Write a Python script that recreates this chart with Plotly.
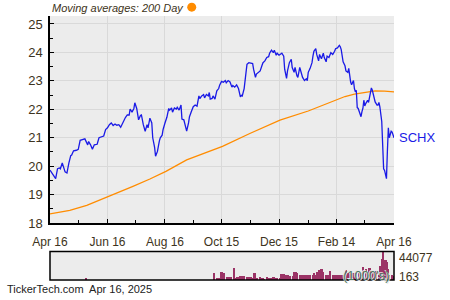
import plotly.graph_objects as go
import pandas as pd

# ---------------- data ----------------
price_dates = [
    "2024-04-16", "2024-04-19", "2024-04-22", "2024-04-24", "2024-04-26", "2024-04-27", "2024-04-29",
    "2024-05-02", "2024-05-04", "2024-05-06", "2024-05-08", "2024-05-09", "2024-05-11", "2024-05-14",
    "2024-05-16", "2024-05-18", "2024-05-21", "2024-05-23", "2024-05-26", "2024-05-27", "2024-05-29",
    "2024-05-31", "2024-06-02", "2024-06-05", "2024-06-07", "2024-06-09", "2024-06-12", "2024-06-14",
    "2024-06-16", "2024-06-18", "2024-06-20", "2024-06-22", "2024-06-24", "2024-06-26", "2024-06-28",
    "2024-06-30", "2024-07-02", "2024-07-05", "2024-07-07", "2024-07-09", "2024-07-10", "2024-07-12",
    "2024-07-14", "2024-07-15", "2024-07-17", "2024-07-19", "2024-07-21", "2024-07-22", "2024-07-24",
    "2024-07-26", "2024-07-28", "2024-07-29", "2024-07-31", "2024-08-02", "2024-08-03", "2024-08-05",
    "2024-08-06", "2024-08-08", "2024-08-10", "2024-08-11", "2024-08-13", "2024-08-14", "2024-08-16",
    "2024-08-18", "2024-08-20", "2024-08-21", "2024-08-23", "2024-08-24", "2024-08-26", "2024-08-28",
    "2024-08-29", "2024-08-31", "2024-09-02", "2024-09-03", "2024-09-05", "2024-09-07", "2024-09-08",
    "2024-09-10", "2024-09-11", "2024-09-13", "2024-09-15", "2024-09-17", "2024-09-19", "2024-09-21",
    "2024-09-22", "2024-09-24", "2024-09-26", "2024-09-27", "2024-09-29", "2024-10-01", "2024-10-02",
    "2024-10-03", "2024-10-05", "2024-10-06", "2024-10-08", "2024-10-10", "2024-10-12", "2024-10-13",
    "2024-10-15", "2024-10-17", "2024-10-19", "2024-10-20", "2024-10-22", "2024-10-24", "2024-10-26",
    "2024-10-27", "2024-10-29", "2024-10-31", "2024-11-02", "2024-11-04", "2024-11-05", "2024-11-06",
    "2024-11-08", "2024-11-10", "2024-11-11", "2024-11-13", "2024-11-15", "2024-11-17", "2024-11-18",
    "2024-11-20", "2024-11-21", "2024-11-23", "2024-11-25", "2024-11-27", "2024-11-28", "2024-11-30",
    "2024-12-02", "2024-12-04", "2024-12-05", "2024-12-07", "2024-12-09", "2024-12-10", "2024-12-12",
    "2024-12-13", "2024-12-15", "2024-12-18", "2024-12-20", "2024-12-21", "2024-12-23", "2024-12-24",
    "2024-12-26", "2024-12-28", "2024-12-29", "2024-12-31", "2025-01-01", "2025-01-03", "2025-01-04",
    "2025-01-06", "2025-01-07", "2025-01-09", "2025-01-11", "2025-01-13", "2025-01-14", "2025-01-15",
    "2025-01-17", "2025-01-19", "2025-01-20", "2025-01-21", "2025-01-23", "2025-01-24", "2025-01-26",
    "2025-01-27", "2025-01-29", "2025-01-31", "2025-02-01", "2025-02-03", "2025-02-04", "2025-02-06",
    "2025-02-08", "2025-02-10", "2025-02-12", "2025-02-13", "2025-02-15", "2025-02-17", "2025-02-18",
    "2025-02-19", "2025-02-21", "2025-02-22", "2025-02-23", "2025-02-24", "2025-02-26", "2025-02-27",
    "2025-02-28", "2025-03-01", "2025-03-02", "2025-03-04", "2025-03-05", "2025-03-06", "2025-03-07",
    "2025-03-08", "2025-03-09", "2025-03-10", "2025-03-12", "2025-03-13", "2025-03-14", "2025-03-15",
    "2025-03-16", "2025-03-17", "2025-03-19", "2025-03-20", "2025-03-22", "2025-03-23", "2025-03-24",
    "2025-03-26", "2025-03-27", "2025-03-29", "2025-03-30", "2025-03-31", "2025-04-01", "2025-04-03",
    "2025-04-04", "2025-04-05", "2025-04-06", "2025-04-08", "2025-04-09", "2025-04-10", "2025-04-11",
    "2025-04-13", "2025-04-14", "2025-04-15", "2025-04-16",
]
price_values = [
    19.86, 19.71, 19.56, 19.91, 19.94, 19.91, 20.11,
    19.80, 19.76, 20.11, 20.37, 20.39, 20.54, 20.56,
    20.59, 20.91, 20.95, 20.96, 20.75, 20.87, 20.75,
    20.60, 20.75, 20.77, 21.00, 21.03, 21.06, 21.29,
    21.35, 21.46, 21.52, 21.43, 21.48, 21.44, 21.46,
    21.37, 21.52, 21.71, 21.80, 21.80, 22.01, 21.90,
    22.03, 22.23, 22.03, 21.63, 21.78, 21.80, 21.46,
    21.23, 21.46, 21.35, 21.69, 21.52, 21.00, 20.66,
    20.35, 20.52, 20.88, 21.00, 21.09, 21.29, 21.52,
    21.72, 22.03, 21.97, 22.05, 21.90, 22.05, 22.01,
    22.07, 21.97, 22.15, 21.66, 21.63, 21.40, 21.23,
    21.52, 21.74, 21.92, 22.09, 22.15, 22.11, 22.47,
    22.38, 22.47, 22.52, 22.40, 22.52, 22.47, 22.59,
    22.36, 22.38, 22.47, 22.36, 22.65, 22.73, 22.85,
    22.98, 22.95, 23.01, 22.93, 23.01, 22.96, 22.78,
    22.84, 22.78, 22.86, 22.73, 22.44, 22.49, 22.47,
    22.73, 23.30, 23.58, 23.64, 23.62, 23.61, 23.41,
    23.12, 23.24, 23.30, 23.35, 23.55, 23.64, 23.70,
    23.82, 23.85, 23.97, 24.08, 23.99, 24.08, 23.90,
    23.97, 23.90, 23.97, 23.87, 23.41, 23.09, 23.35,
    23.64, 23.76, 23.47, 23.30, 23.47, 23.18, 23.12,
    23.47, 23.32, 23.12, 23.01, 23.07, 23.01, 23.30,
    23.44, 23.64, 23.87, 24.04, 24.13, 23.93, 23.70,
    23.93, 23.78, 23.97, 23.82, 23.67, 23.87, 23.82,
    23.99, 23.93, 24.04, 24.13, 24.16, 24.25, 24.20,
    24.10, 23.67, 23.58, 23.53, 23.35, 23.30, 23.44,
    23.07, 22.96, 22.86, 23.01, 22.73, 22.61, 22.67,
    22.06, 22.03, 21.94, 21.74, 21.92, 22.03, 22.32,
    22.12, 22.20, 22.32, 22.24, 22.55, 22.75, 22.67,
    22.32, 22.26, 22.15, 22.15, 22.24, 22.09, 21.57,
    20.89, 19.91, 19.85, 19.56, 20.54, 21.35, 21.00,
    21.23, 21.20, 21.13, 21.00,
]

ma_dates = [
    "2024-04-16", "2024-05-07", "2024-05-25", "2024-06-15", "2024-07-13", "2024-07-31",
    "2024-08-17", "2024-09-08", "2024-09-27", "2024-10-16", "2024-11-14", "2024-12-16",
    "2025-01-15", "2025-01-27", "2025-02-11", "2025-02-23", "2025-03-05", "2025-03-16",
    "2025-03-27", "2025-04-06", "2025-04-16",
]
ma_values = [
    18.32, 18.45, 18.62, 18.90, 19.29, 19.55,
    19.82, 20.22, 20.47, 20.70, 21.15, 21.62,
    21.94, 22.10, 22.28, 22.45, 22.53, 22.60,
    22.65, 22.64, 22.61,
]

# volume (thousands), business days 2024-10-10 .. 2025-04-16
vol_values = [
    # Oct
    3100, 3100, 3100, 13700, 5800, 5800, 11000, 4700, 4200, 4900, 4500, 4700, 20000, 3600, 3600, 3800,
    # Nov
    5800, 7400, 7000, 7600, 7200, 7400, 5200, 5000, 5400, 5200, 4600,
    4200, 12100, 4000, 4400, 4200, 5200, 4000, 4300, 3600, 3000,
    # Dec
    5000, 4200, 4000, 4300, 4100, 4800, 4200, 4000, 4400, 4000,
    4500, 9900, 9400, 9000, 9600, 8900, 9200, 7400, 7200, 7000, 7400, 12600,
    # Jan
    8300, 12600, 12000, 8300, 7900, 8000, 7600, 7800, 7900, 8200, 7600, 7900, 8000,
    7700, 11500, 7900, 8200, 13700, 16800, 9000, 17800, 9500, 12600,
    # Feb
    8300, 8500, 8000, 8300, 15300, 7900, 7600, 8200, 7800, 7900,
    7700, 8000, 8100, 7900, 9000, 16800, 11000, 10500, 11500, 11000,
    # Mar
    11000, 11500, 10800, 11200, 11000, 11500, 11000, 10800, 11200, 20500,
    17800, 11000, 11500, 12000, 18900, 13700, 13000, 13500, 13700, 14000, 13700,
    # Apr
    23100, 15000, 32600, 44077, 31000, 28300, 17300, 12600, 8300, 8300, 6300, 5800,
]
vol_start = "2024-10-10"
early_vol_dates = ["2024-05-24", "2024-10-07"]
early_vol_values = [4000, 11000]

x_tick_dates = ["2024-04-16", "2024-06-16", "2024-08-16", "2024-10-15", "2024-12-15", "2025-02-14", "2025-04-16"]
x_tick_text = ["Apr 16", "Jun 16", "Aug 16", "Oct 15", "Dec 15", "Feb 14", "Apr 16"]
x_minor_dates = ["2024-05-16", "2024-07-16", "2024-09-15", "2024-11-15", "2025-01-15", "2025-03-16"]
y_ticks = [18, 19, 20, 21, 22, 23, 24, 25]
y_minor = [18.5, 19.5, 20.5, 21.5, 22.5, 23.5, 24.5]

ticker = "SCHX"
title_text = "Moving averages: 200 Day"
footer_text = "TickerTech.com&nbsp; Apr 16, 2025"
vol_max_label = "44077"
vol_min_label = "163"
vol_unit = "(1000's)"

# ---------------- figure ----------------
FONT = "Liberation Sans, Arial, sans-serif"
TXT = "#3d3320"
BG = "#ececec"
GRID = "#d9d9d9"

vol_dates = pd.bdate_range(start=vol_start, periods=len(vol_values))
x_range = ["2024-04-16", "2025-04-16"]

fig = go.Figure()
fig.add_trace(go.Scatter(x=ma_dates, y=ma_values, mode="lines",
                         line=dict(color="#ff8c00", width=1.3), xaxis="x", yaxis="y"))
fig.add_trace(go.Scatter(x=price_dates, y=price_values, mode="lines",
                         line=dict(color="#1a1ae6", width=1.3), xaxis="x", yaxis="y"))
fig.add_trace(go.Bar(x=list(early_vol_dates) + list(vol_dates), y=early_vol_values + vol_values,
                     marker=dict(color="#9b3366", line=dict(width=0)),
                     width=86400000 * 2.4, xaxis="x2", yaxis="y2"))

fig.update_layout(
    width=450, height=300,
    margin=dict(l=50, r=56, t=16, b=15),
    paper_bgcolor="white", plot_bgcolor=BG,
    showlegend=False, bargap=0,
    font=dict(family=FONT, size=12, color=TXT),
    xaxis=dict(type="date", range=x_range, domain=[0, 1], anchor="y",
               tickmode="array", tickvals=x_tick_dates, ticktext=x_tick_text,
               ticks="inside", ticklen=4, tickcolor="black",
               minor=dict(tickvals=x_minor_dates, ticks="inside", ticklen=3, tickcolor="black", showgrid=False),
               showgrid=True, gridcolor=GRID, gridwidth=1,
               showline=True, linecolor="black", linewidth=1.5,
               tickfont=dict(size=12, color=TXT), ticklabelstandoff=7, zeroline=False),
    yaxis=dict(range=[18, 25.28], domain=[0.2156, 1], anchor="x",
               tickmode="array", tickvals=y_ticks,
               ticks="inside", ticklen=4, tickcolor="black",
               minor=dict(tickvals=y_minor, ticks="inside", ticklen=3, tickcolor="black", showgrid=False),
               showgrid=True, gridcolor=GRID, gridwidth=1,
               showline=True, linecolor="black", linewidth=1.5,
               tickfont=dict(size=13, color=TXT), ticklabelstandoff=3, zeroline=False),
    xaxis2=dict(type="date", range=x_range, domain=[0, 1], anchor="y2",
                showticklabels=False, showgrid=False, ticks="", zeroline=False),
    yaxis2=dict(range=[0, 44077], domain=[0, 0.1078], anchor="x2",
                showticklabels=False, showgrid=False, ticks="", zeroline=False),
)

# volume panel frame
fig.add_shape(type="rect", xref="x2 domain", yref="y2 domain", x0=0, x1=1, y0=0, y1=1,
              line=dict(color="black", width=1.5), fillcolor="rgba(0,0,0,0)")

ann = []
ann.append(dict(text=title_text, xref="paper", yref="paper", x=0, y=1.0316,
                xanchor="left", yanchor="middle", showarrow=False,
                font=dict(family=FONT, size=11, color=TXT, style="italic")))
ann.append(dict(text=ticker, xref="paper", yref="y", x=1.008, y=price_values[-1],
                xanchor="left", yanchor="middle", showarrow=False,
                font=dict(family=FONT, size=13, color="#1a1ae6")))
ann.append(dict(text=vol_max_label, xref="paper", yref="paper", x=1.008, y=0.0844,
                xanchor="left", yanchor="middle", showarrow=False,
                font=dict(family=FONT, size=12, color=TXT)))
ann.append(dict(text=vol_min_label, xref="paper", yref="paper", x=1.008, y=0.0123,
                xanchor="left", yanchor="middle", showarrow=False,
                font=dict(family=FONT, size=12, color=TXT)))
ann.append(dict(text=vol_unit, xref="paper", yref="paper", x=0.995, y=0.0167,
                xanchor="right", yanchor="middle", showarrow=False,
                font=dict(family=FONT, size=13, color="#4d7a64",
                          shadow="1px 1px 0px #e8e8e8, -1px -1px 0px #e8e8e8")))
ann.append(dict(text=footer_text, xref="paper", yref="paper", x=-0.1308, y=-0.0335,
                xanchor="left", yanchor="middle", showarrow=False,
                font=dict(family=FONT, size=11, color="#222222")))
fig.update_layout(annotations=ann)

# orange legend dot
fig.add_shape(type="circle", xref="paper", yref="paper",
              xsizemode="pixel", ysizemode="pixel", xanchor=0.412, yanchor=1.0335,
              x0=-4.5, x1=4.5, y0=-4.5, y1=4.5,
              fillcolor="#ff8c00", line=dict(width=0))

fig.write_html("out.html")
